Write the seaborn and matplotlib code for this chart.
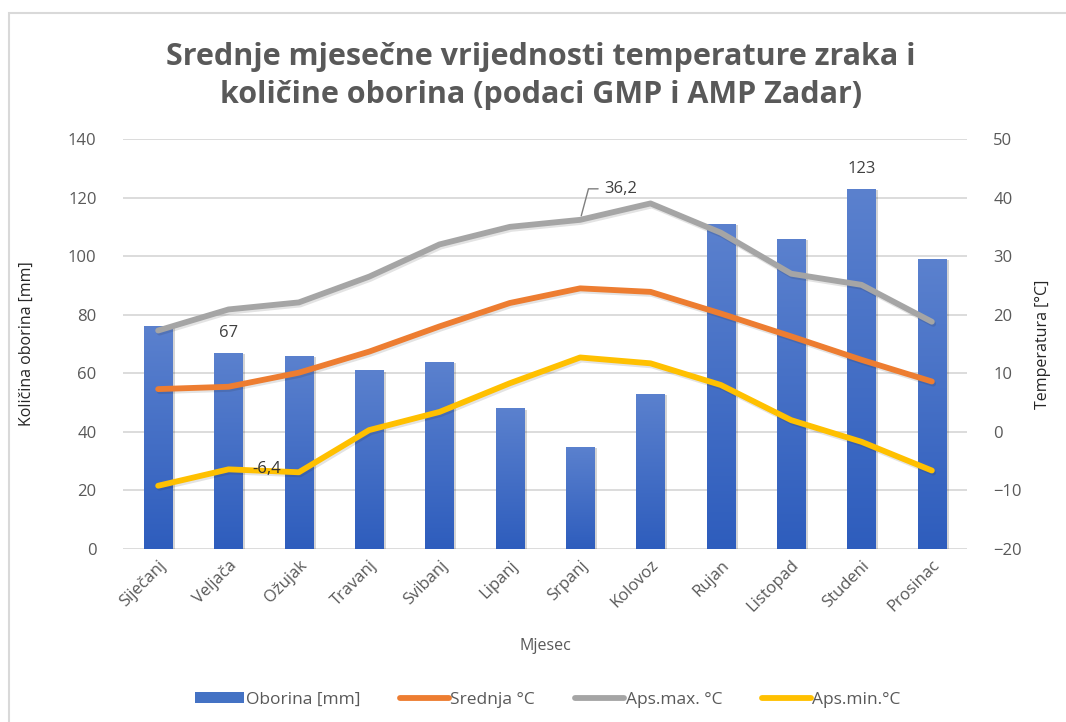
import numpy as np
import pandas as pd
import matplotlib
matplotlib.use("Agg")
import matplotlib.pyplot as plt
import matplotlib.patheffects as pe
from matplotlib.colors import LinearSegmentedColormap
from matplotlib.lines import Line2D
from matplotlib.patches import Patch, Rectangle
import seaborn as sns

# Monthly climate values, Zadar
months = ["Siječanj", "Veljača", "Ožujak", "Travanj", "Svibanj", "Lipanj",
          "Srpanj", "Kolovoz", "Rujan", "Listopad", "Studeni", "Prosinac"]
oborina = [76, 67, 66, 61, 64, 48, 35, 53, 111, 106, 123, 99]
srednja = [7.3, 7.7, 10.1, 13.7, 18.0, 22.0, 24.5, 23.9, 20.2, 16.3, 12.3, 8.6]
aps_max = [17.3, 20.9, 22.1, 26.5, 32.0, 35.0, 36.2, 39.0, 34.0, 27.0, 25.1, 18.8]
aps_min = [-9.2, -6.4, -6.9, 0.3, 3.4, 8.3, 12.7, 11.7, 8.0, 2.0, -1.7, -6.6]

left_ticks = [0, 20, 40, 60, 80, 100, 120, 140]
right_ticks = [-20, -10, 0, 10, 20, 30, 40, 50]

df = pd.DataFrame({"Mjesec": months, "Oborina": oborina, "Srednja": srednja,
                   "Max": aps_max, "Min": aps_min})

sns.set_theme(style="white")
plt.rcParams["font.family"] = ["Open Sans", "DejaVu Sans"]

TXT = "#595959"
BLUE = "#4472C4"
ORANGE = "#ED7D31"
GRAY = "#A5A5A5"
YELLOW = "#FFC000"
GRID = "#D9D9D9"

fig = plt.figure(figsize=(10.66, 7.22), dpi=100)
ax = fig.add_axes([123 / 1066, 1 - 549 / 722, (967 - 123) / 1066, (549 - 139) / 722])

# outer chart border
fig.patches.append(Rectangle((9 / 1066, -0.05), 1.2, 1 - 13 / 722 + 0.05,
                             transform=fig.transFigure, fill=False,
                             edgecolor=GRID, lw=1.5, zorder=0))

# precipitation bars
sns.barplot(data=df, x="Mjesec", y="Oborina", color=BLUE, width=0.4,
            saturation=1, ax=ax, zorder=2)
grad_cmap = LinearSegmentedColormap.from_list("bar", ["#2E5DBD", "#5B81CE"])
grad = np.linspace(0, 1, 256).reshape(-1, 1)
for p in ax.patches:
    p.set_edgecolor("none")
    p.set_path_effects([pe.SimplePatchShadow(offset=(2, -1), alpha=0.22,
                                             shadow_rgbFace="#404040"),
                        pe.Normal()])
    x0, y0 = p.get_x(), p.get_y()
    w, h = p.get_width(), p.get_height()
    im = ax.imshow(grad, extent=[x0, x0 + w, y0, y0 + h], origin="lower",
                   aspect="auto", cmap=grad_cmap, zorder=2.5)
    im.set_clip_path(p)

ax.set_xlim(-0.5, 11.5)
ax.set_ylim(0, 140)
ax.set_yticks(left_ticks)
ax.yaxis.grid(True, color=GRID, lw=1.3)
ax.set_axisbelow(True)
for s in ax.spines.values():
    s.set_visible(False)
ax.tick_params(axis="both", length=0, labelsize=12, labelcolor=TXT)
ax.tick_params(axis="y", pad=19)
ax.tick_params(axis="x", pad=6)
plt.setp(ax.get_xticklabels(), rotation=45, ha="right", rotation_mode="anchor")
ax.set_xlabel("Mjesec", fontsize=11.5, color=TXT, labelpad=16)
ax.set_ylabel("Količina oborina [mm]", fontsize=11.5, color="#262626", labelpad=24)

# bar value labels
for i in (1, 10):
    ax.annotate(f"{oborina[i]}", xy=(i, oborina[i]), xytext=(0, 20),
                textcoords="offset pixels", ha="center", va="center",
                fontsize=12, color="#404040")

# temperature lines on the secondary axis
ax2 = ax.twinx()
shadow = [pe.SimpleLineShadow(offset=(1, -1.5), alpha=0.12), pe.Normal()]
for col, c in (("Srednja", ORANGE), ("Max", GRAY), ("Min", YELLOW)):
    sns.lineplot(data=df, x="Mjesec", y=col, color=c, lw=4.2, ax=ax2,
                 solid_capstyle="round", solid_joinstyle="round",
                 path_effects=shadow, zorder=3, sort=False)
ax2.set_ylim(-20, 50)
ax2.set_yticks(right_ticks)
ax2.set_xlim(-0.5, 11.5)
for s in ax2.spines.values():
    s.set_visible(False)
ax2.tick_params(axis="y", length=0, labelsize=12, labelcolor=TXT, pad=19)
ax2.set_ylabel("Temperatura [°C]", fontsize=11.5, color="#262626",
               rotation=90, labelpad=9)
ax2.yaxis.set_label_position("right")
ax2.set_xlabel("")

# temperature value labels
ax2.annotate("36,2", xy=(6, aps_max[6]), xytext=(24, 31),
             textcoords="offset pixels", ha="left", va="center",
             fontsize=12, color="#404040", zorder=6,
             arrowprops=dict(arrowstyle="-", color="#7F7F7F", lw=1,
                             shrinkA=2, shrinkB=3,
                             connectionstyle="angle,angleA=0,angleB=75,rad=0"))
ax2.annotate("-6,4", xy=(1, aps_min[1]), xytext=(24, 0),
             textcoords="offset pixels", ha="left", va="center",
             fontsize=12, color="#333333", zorder=6)

fig.suptitle("Srednje mjesečne vrijednosti temperature zraka i\n"
             "količine oborina (podaci GMP i AMP Zadar)",
             x=541 / 1066, y=1 - 76 / 722, va="center", ha="center",
             fontsize=22, fontweight="bold", color=TXT, linespacing=1.35)

handles = [Patch(facecolor=BLUE, edgecolor="none"),
           Line2D([], [], color=ORANGE, lw=4.2, solid_capstyle="round"),
           Line2D([], [], color=GRAY, lw=4.2, solid_capstyle="round"),
           Line2D([], [], color=YELLOW, lw=4.2, solid_capstyle="round")]
labels = ["Oborina [mm]", "Srednja °C", "Aps.max. °C", "Aps.min.°C"]
fig.legend(handles, labels, loc="center", bbox_to_anchor=(548 / 1066, 1 - 700 / 722),
           ncol=4, frameon=False, fontsize=12.5, labelcolor=TXT,
           handlelength=2.8, handleheight=0.6, handletextpad=0.1,
           columnspacing=2.3)

fig.savefig("out.png", dpi=100)
